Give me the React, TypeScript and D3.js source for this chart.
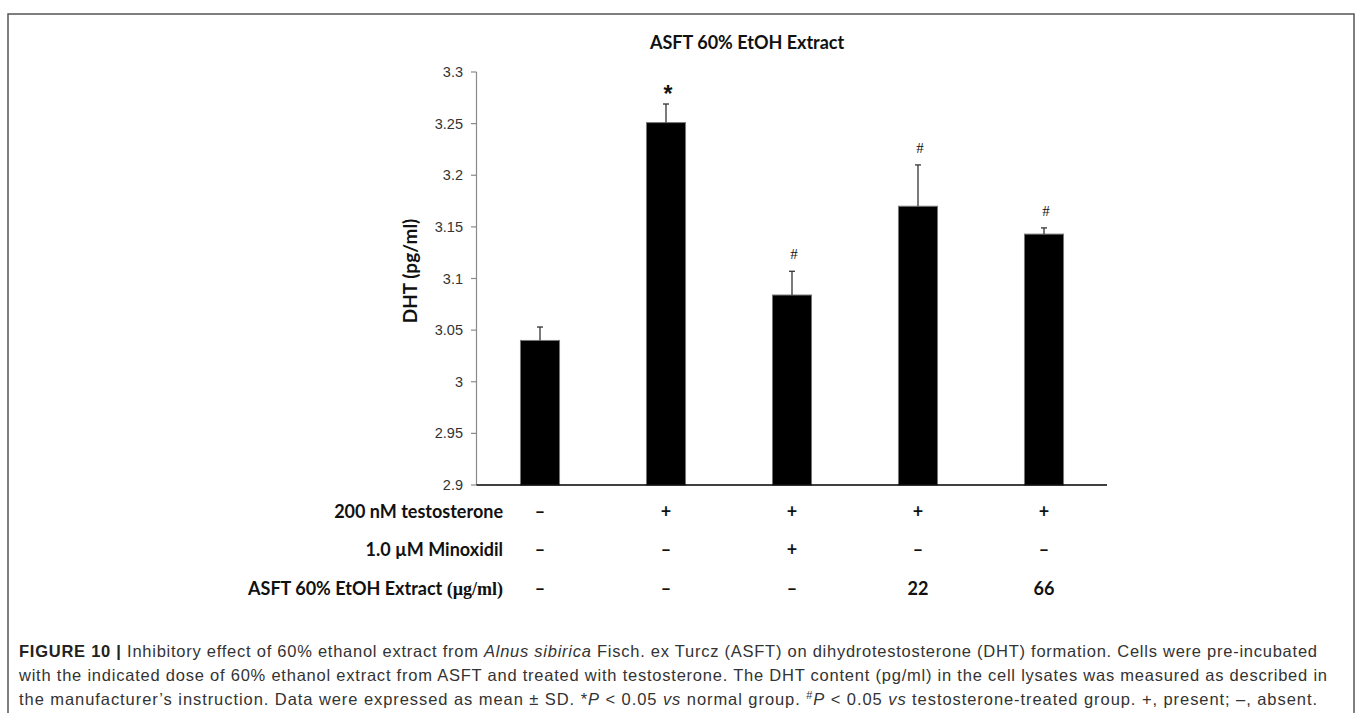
import * as d3 from "d3";

const groups = ["normal", "testosterone", "minoxidil", "asft22", "asft66"];
const dhtMean = [3.04, 3.251, 3.084, 3.17, 3.143];
const dhtSD = [0.013, 0.018, 0.023, 0.04, 0.006];
const marks = ["", "*", "#", "#", "#"];
const yTickValues = [2.9, 2.95, 3.0, 3.05, 3.1, 3.15, 3.2, 3.25, 3.3];

const rowLabels = ["200 nM testosterone", "1.0 µM Minoxidil", "ASFT 60% EtOH Extract "];
const testosteroneRow = ["–", "+", "+", "+", "+"];
const minoxidilRow = ["–", "–", "+", "–", "–"];
const extractRow = ["–", "–", "–", "22", "66"];

const W = 1358;
const H = 713;

export default function App() {
  const x = d3
    .scaleBand<string>()
    .domain(groups)
    .range([477, 1107])
    .paddingInner(0.69)
    .paddingOuter(0.345);
  const y = d3.scaleLinear().domain([2.9, 3.3]).range([485, 72]);
  const bw = x.bandwidth();
  const cx = (g: string) => (x(g) ?? 0) + bw / 2;
  const fmt = (v: number) => String(+v.toFixed(2));

  const rows = [testosteroneRow, minoxidilRow, extractRow];
  const rowY = [512, 550, 589];
  const boldFont = "Lato, 'Open Sans', sans-serif";
  const tickFont = "'Liberation Sans', Arial, sans-serif";
  const capFont = "'Liberation Sans Narrow', 'Liberation Sans', Arial, sans-serif";

  return (
    <svg
      width={W}
      height={H}
      style={{ position: "absolute", left: 0, top: 0, display: "block", background: "#fff" }}
    >
      {/* frame, open at the bottom */}
      <path d={`M8,${H + 5} V14 H1354 V${H + 5}`} fill="none" stroke="#555" strokeWidth={1.5} />

      <text x={650} y={49} fontFamily={boldFont} fontWeight={700} fontSize={18} fill="#111">
        ASFT 60% EtOH Extract
      </text>

      {/* y axis */}
      <line x1={476.5} x2={476.5} y1={y(3.3)} y2={y(2.9)} stroke="#8a8a8a" strokeWidth={1.2} />
      {yTickValues.map((t) => (
        <g key={t}>
          <line x1={471} x2={476.5} y1={y(t)} y2={y(t)} stroke="#8a8a8a" strokeWidth={1.2} />
          <text
            x={463}
            y={y(t)}
            dy="0.35em"
            textAnchor="end"
            fontFamily={tickFont}
            fontSize={14.5}
            fill="#333"
          >
            {fmt(t)}
          </text>
        </g>
      ))}
      <text
        transform={`translate(410, 271) rotate(-90)`}
        textAnchor="middle"
        dy="0.35em"
        fontFamily={boldFont}
        fontWeight={700}
        fontSize={19}
        fill="#111"
      >
        DHT (pg/ml)
      </text>

      {/* bars with SD */}
      {groups.map((g, i) => {
        const top = y(dhtMean[i]);
        const cap = y(dhtMean[i] + dhtSD[i]);
        const star = marks[i] === "*";
        return (
          <g key={g}>
            <rect x={x(g)} y={top} width={bw} height={y(2.9) - top} fill="#000" stroke="#777" strokeWidth={1} />
            <line x1={cx(g)} x2={cx(g)} y1={top} y2={cap} stroke="#333" strokeWidth={1.3} />
            <line x1={cx(g) - 3} x2={cx(g) + 3} y1={cap} y2={cap} stroke="#333" strokeWidth={1.3} />
            {marks[i] && (
              <text
                x={cx(g) + 2}
                y={star ? cap - 2 : cap - 12}
                textAnchor="middle"
                fontFamily={star ? tickFont : "'Liberation Serif', serif"}
                fontWeight={star ? 700 : 400}
                fontSize={star ? 23 : 15}
                fill="#111"
              >
                {marks[i]}
              </text>
            )}
          </g>
        );
      })}
      <line x1={476.5} x2={1107} y1={485} y2={485} stroke="#000" strokeWidth={1.5} />

      {/* treatment table */}
      {rowLabels.map((label, r) => (
        <text
          key={label}
          x={503}
          y={rowY[r]}
          dy="0.35em"
          textAnchor="end"
          fontFamily={boldFont}
          fontWeight={700}
          fontSize={18}
          fill="#111"
        >
          {label}
          {r === 2 && (
            <tspan fontFamily="'Liberation Serif', serif" fontWeight={700}>
              (µg/ml)
            </tspan>
          )}
        </text>
      ))}
      {rows.map((row, r) =>
        row.map((v, i) => (
          <text
            key={`${r}-${i}`}
            x={cx(groups[i])}
            y={rowY[r]}
            dy="0.35em"
            textAnchor="middle"
            fontFamily={boldFont}
            fontWeight={700}
            fontSize={18}
            fill="#111"
          >
            {v}
          </text>
        ))
      )}

      {/* caption */}
      <g fontFamily={capFont} fontSize={16.5} fill="#333">
        <text x={19} y={657} textLength={1298} lengthAdjust="spacing">
          <tspan fontWeight={700} fill="#222">FIGURE 10 | </tspan>
          Inhibitory effect of 60% ethanol extract from <tspan fontStyle="italic">Alnus sibirica</tspan> Fisch. ex
          Turcz (ASFT) on dihydrotestosterone (DHT) formation. Cells were pre-incubated
        </text>
        <text x={19} y={681} textLength={1308} lengthAdjust="spacing">
          with the indicated dose of 60% ethanol extract from ASFT and treated with testosterone. The DHT content
          (pg/ml) in the cell lysates was measured as described in
        </text>
        <text x={19} y={705} textLength={1298} lengthAdjust="spacing">
          the manufacturer’s instruction. Data were expressed as mean ± SD. *<tspan fontStyle="italic">P</tspan>{" "}
          &lt; 0.05 <tspan fontStyle="italic">vs</tspan> normal group.{" "}
          <tspan fontSize={11} dy={-6}>#</tspan>
          <tspan fontStyle="italic" dy={6}>P</tspan> &lt; 0.05 <tspan fontStyle="italic">vs</tspan>{" "}
          testosterone-treated group. +, present; –, absent.
        </text>
      </g>
    </svg>
  );
}
